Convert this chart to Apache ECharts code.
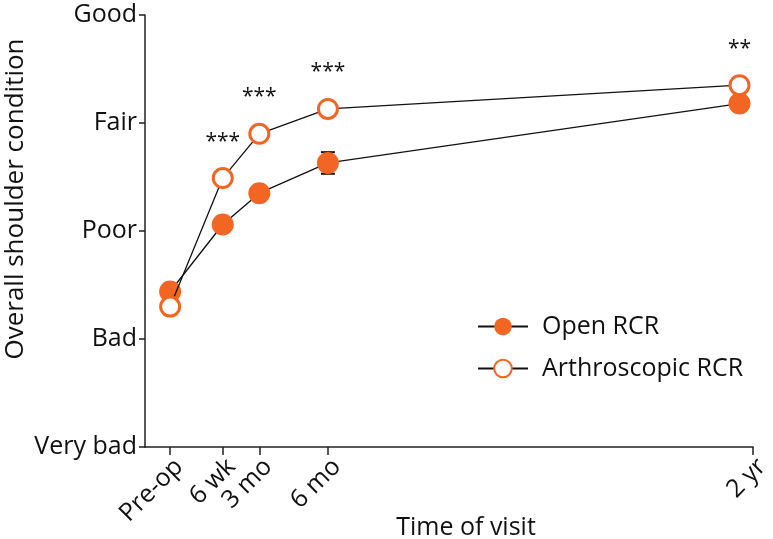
<!DOCTYPE html>
<html>
<head>
<meta charset="utf-8">
<script src="https://cdn.jsdelivr.net/npm/echarts@6/dist/echarts.min.js"></script>
<style>html,body{margin:0;padding:0;background:#fff}#c{width:773px;height:539px}</style>
</head>
<body>
<div id="c"></div>
<script>
// time of visit in months (pre-op placed before surgery)
var visitTimes = [-0.9, 1.4, 3, 6, 24];
var xTickValues = [-0.9, 1.4, 3, 6, 24.6];
var xTickLabels = ['Pre-op', '6 wk', '3 mo', '6 mo', '2 yr'];
var yTickLabels = ['Very bad', 'Bad', 'Poor', 'Fair', 'Good'];
var openRCR = [1.44, 2.06, 2.35, 2.63, 3.18];
var openErr = [0.03, 0.03, 0.04, 0.10, 0.04];
var arthroRCR = [1.30, 2.49, 2.90, 3.13, 3.35];
var sigLabels = ['', '***', '***', '***', '**'];
var xTitle = 'Time of visit';
var yTitle = 'Overall shoulder condition';

var FONT = '"Open Sans", "Noto Sans", sans-serif';
var ORANGE = '#F26522';
var FS = 25;

function pairs(vals) { return vals.map(function (v, i) { return [visitTimes[i], v]; }); }
var errData = openRCR.map(function (v, i) { return [visitTimes[i], v - openErr[i], v + openErr[i]]; });

var chart = echarts.init(document.getElementById('c'), null, {renderer: 'canvas'});
chart.setOption({
  animation: false,
  backgroundColor: '#fff',
  textStyle: {fontFamily: FONT},
  grid: {left: 145, right: 17, top: 15, bottom: 92, containLabel: false},
  graphic: [
    {type: 'text', x: 466, y: 528, style: {text: xTitle, font: FS + 'px ' + FONT, fill: '#111', align: 'center', verticalAlign: 'middle'}},
    {type: 'text', x: 16, y: 199, rotation: Math.PI / 2, style: {text: yTitle, font: (FS + 1) + 'px ' + FONT, fill: '#111', align: 'center', verticalAlign: 'middle'}}
  ],
  xAxis: {
    type: 'value', min: -2, max: 24.6,
    axisLine: {show: true, onZero: false, lineStyle: {color: '#222', width: 1.5}},
    axisTick: {show: true, length: 8, lineStyle: {color: '#222', width: 1.5}, customValues: xTickValues},
    axisLabel: {
      rotate: 45, margin: 7, fontSize: FS, color: '#111', fontFamily: FONT,
      align: 'right', verticalAlign: 'top',
      customValues: xTickValues,
      formatter: function (v) { var i = xTickValues.indexOf(v); return i >= 0 ? xTickLabels[i] : ''; }
    },
    splitLine: {show: false}
  },
  yAxis: {
    type: 'value', min: 0, max: 4, interval: 1,
    axisLine: {show: true, onZero: false, lineStyle: {color: '#222', width: 1.5}},
    axisTick: {show: true, length: 6, lineStyle: {color: '#222', width: 1.5}},
    axisLabel: {margin: 8, fontSize: FS, color: '#111', fontFamily: FONT,
      formatter: function (v) { return yTickLabels[Math.round(v)]; }},
    splitLine: {show: false}
  },
  legend: {
    orient: 'vertical', left: 472, top: 309, itemWidth: 50, itemHeight: 22, itemGap: 17,
    textStyle: {fontSize: FS, color: '#111', fontFamily: FONT, padding: [0, 0, 0, 9]},
    data: ['Open RCR', 'Arthroscopic RCR']
  },
  series: [
    {
      type: 'custom', name: 'err', z: 1, silent: true,
      renderItem: function (params, api) {
        var x = api.coord([api.value(0), api.value(1)]);
        var top = api.coord([api.value(0), api.value(2)]);
        var hw = 7;
        return {type: 'group', children: [
          {type: 'line', shape: {x1: x[0], y1: x[1], x2: top[0], y2: top[1]}, style: {stroke: '#111', lineWidth: 1.5}},
          {type: 'line', shape: {x1: x[0] - hw, y1: x[1], x2: x[0] + hw, y2: x[1]}, style: {stroke: '#111', lineWidth: 2}},
          {type: 'line', shape: {x1: top[0] - hw, y1: top[1], x2: top[0] + hw, y2: top[1]}, style: {stroke: '#111', lineWidth: 2}}
        ]};
      },
      encode: {x: 0, y: [1, 2]},
      data: errData
    },
    {
      type: 'line', name: 'Open RCR', z: 3, data: pairs(openRCR),
      symbol: 'circle', symbolSize: 22,
      itemStyle: {color: ORANGE, borderWidth: 0},
      lineStyle: {color: '#111', width: 1.3}
    },
    {
      type: 'line', name: 'Arthroscopic RCR', z: 4, data: pairs(arthroRCR),
      symbol: 'circle', symbolSize: 19,
      itemStyle: {color: '#fff', borderColor: ORANGE, borderWidth: 3},
      lineStyle: {color: '#111', width: 1.3},
      label: {
        show: true, position: 'top', distance: 15, fontSize: 21, color: '#111', fontFamily: FONT,
        formatter: function (p) { return sigLabels[p.dataIndex]; }
      }
    }
  ]
});
</script>
</body>
</html>
